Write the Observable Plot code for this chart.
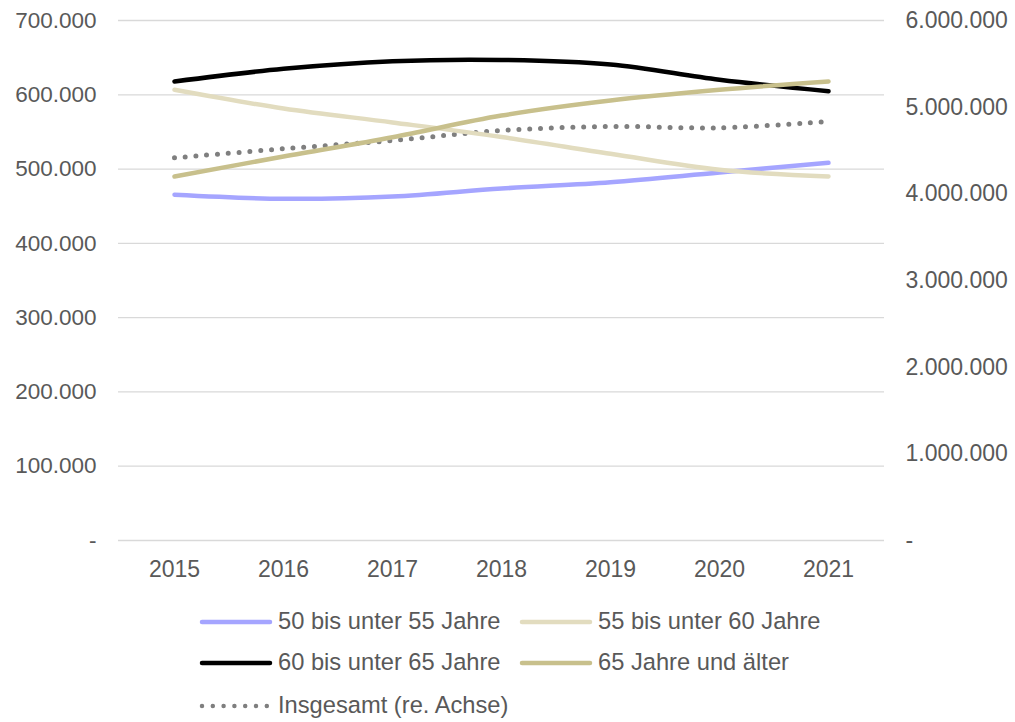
<!DOCTYPE html>
<html><head><meta charset="utf-8">
<script src="https://cdn.jsdelivr.net/npm/d3@7"></script>
<script src="https://cdn.jsdelivr.net/npm/@observablehq/plot@0.6"></script>
<style>
body{margin:0;background:#fff;font-family:"Liberation Sans",Arial,sans-serif;}
#chart{position:absolute;left:0;top:0;}
.legend{position:absolute;left:198px;top:608px;font-size:23.7px;color:#595959;}
.item{position:absolute;display:flex;align-items:center;white-space:nowrap;}
.item svg{margin-right:4px;}
</style></head><body>
<div id="chart"></div>
<div class="legend" id="legend"></div>
<script>
const years = ["2015","2016","2017","2018","2019","2020","2021"];
const s50 = [465400, 460000, 463000, 473800, 482300, 495400, 508400];
const s55 = [606700, 581500, 562800, 543200, 520600, 499000, 490000];
const s60 = [617900, 635000, 645200, 646900, 640800, 620200, 604800];
const s65 = [490000, 516900, 542900, 572000, 592300, 606700, 617900];
const total = [4416000, 4520000, 4615000, 4731000, 4777000, 4762000, 4835000];
const seriesNames = ["50 bis unter 55 Jahre","55 bis unter 60 Jahre","60 bis unter 65 Jahre","65 Jahre und älter","Insgesamt (re. Achse)"];
const colors = ["#a5a5ff","#e2dcbf","#000000","#c8c08c","#7f7f7f"];
const leftTicks = [0,100000,200000,300000,400000,500000,600000,700000];
const rightTicks = [0,1000000,2000000,3000000,4000000,5000000,6000000];

const ratio = 700000/6000000;
const fmt = v => v === 0 ? "-" : d3.format(",")(v).replace(/,/g,".");

const ageSeries = [s50,s55,s60,s65];
const rows = [];
ageSeries.forEach((arr,i)=>arr.forEach((v,j)=>rows.push({year:years[j], v, s:seriesNames[i]})));
const totRows = total.map((v,j)=>({year:years[j], v: v*ratio}));

const chart = Plot.plot({
  width: 1015, height: 590,
  marginTop: 20, marginBottom: 50, marginLeft: 118, marginRight: 131,
  style:{fontFamily:'"Liberation Sans",Arial,sans-serif', fontSize:"22.5px", color:"#595959", background:"#fff"},
  x:{type:"point", domain: years, padding:0.5, label:null},
  y:{domain:[0,700000], label:null},
  color:{domain: seriesNames, range: colors},
  marks:[
    Plot.gridY(leftTicks, {stroke:"#d9d9d9", strokeOpacity:1, strokeWidth:1.3}),
    Plot.axisY(leftTicks, {anchor:"left", tickFormat: fmt, tickSize:0, tickPadding:22, fill:"#595959"}),
    Plot.axisY(rightTicks.map(t=>t*ratio), {anchor:"right", tickFormat: d=>fmt(Math.round(d/ratio/1e5)*1e5), tickSize:0, tickPadding:21, textAnchor:"start", fill:"#595959", fontSize:23}),
    Plot.axisX(years, {anchor:"bottom", tickSize:0, tickPadding:20, fill:"#595959", fontSize:23}),
    Plot.line(totRows, {x:"year", y:"v", stroke:colors[4], strokeWidth:5, strokeDasharray:"0 10.8", strokeLinecap:"round", curve:"catmull-rom"}),
    Plot.line(rows, {x:"year", y:"v", z:"s", stroke:"s", strokeWidth:4.5, strokeLinecap:"round", curve:"catmull-rom"})
  ]
});
document.getElementById("chart").appendChild(chart);

const leg = document.getElementById("legend");
const pos = [[0,0],[320,0],[0,41],[320,41],[0,84]];
seriesNames.forEach((n,i)=>{
  const d = document.createElement("div");
  d.className="item";
  d.style.left = pos[i][0]+"px"; d.style.top = pos[i][1]+"px";
  const dash = i===4 ? 'stroke-dasharray="0 10.8"' : '';
  d.innerHTML = `<svg width="76" height="20"><line x1="4" x2="72" y1="10" y2="10" stroke="${colors[i]}" stroke-width="4.5" stroke-linecap="round" ${dash}/></svg><span>${n}</span>`;
  leg.appendChild(d);
});
</script>
</body></html>
